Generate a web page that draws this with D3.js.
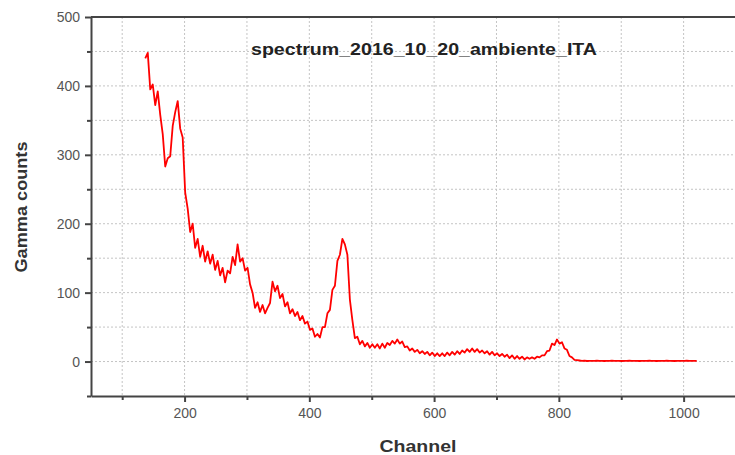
<!DOCTYPE html>
<html>
<head>
<meta charset="utf-8">
<script src="https://cdn.jsdelivr.net/npm/d3@7"></script>
<style>
  body { margin: 0; background: #fff; }
  svg { display: block; font-family: "Liberation Sans", Arial, sans-serif; }
</style>
</head>
<body>
<svg id="chart" width="735" height="455"></svg>
<script>
// spectrum sampled every 4 channels, starting at channel 137
var channelStart = 137, channelStep = 4;
var counts = [
  440, 448, 395, 402, 372, 392, 358, 330, 283, 295,
  298, 342, 362, 378, 338, 325, 245, 222, 188, 200,
  165, 178, 152, 168, 145, 160, 142, 155, 133, 146,
  125, 136, 115, 132, 128, 152, 140, 170, 145, 150,
  132, 136, 112, 100, 78, 86, 72, 82, 70, 78,
  85, 116, 102, 110, 92, 98, 80, 86, 70, 76,
  66, 72, 60, 66, 55, 58, 46, 48, 36, 40,
  35, 50, 50, 70, 75, 104, 110, 146, 155, 178,
  170, 155, 90, 60, 34, 36, 25, 30, 22, 27,
  20, 25, 20, 25, 19, 26, 20, 27, 24, 30,
  26, 32, 26, 29, 21, 22, 16, 19, 14, 17,
  12, 15, 11, 14, 9, 13, 8, 12, 8, 12,
  8, 13, 9, 14, 10, 15, 11, 16, 13, 18,
  14, 19, 14, 18, 13, 16, 12, 15, 10, 14,
  9, 12, 8, 11, 7, 10, 5, 9, 4, 8,
  4, 7, 3, 6, 4, 6, 4, 7, 6, 9,
  9, 15, 16, 26, 24, 32, 26, 28, 19, 17,
  8, 6, 2.5, 2, 1.5, 1, 1.2, 0.8, 1, 1,
  1, 1.2, 1, 1, 0.8, 1, 1, 1.2, 1, 1,
  1, 0.8, 1, 1, 1.2, 1, 1, 1, 0.8, 1,
  1, 1, 1.2, 1, 1, 0.8, 1, 1, 1, 1.2,
  1, 1, 0.8, 1, 1, 1, 1, 1.2, 1, 1,
  1, 1
];
var xMajor = [200, 400, 600, 800, 1000];
var xMinor = [100, 300, 500, 700, 900];
var yMajor = [0, 100, 200, 300, 400, 500];
var yMinor = [-50, 50, 150, 250, 350, 450];
var title = "spectrum_2016_10_20_ambiente_ITA";

var svg = d3.select('#chart'),
	padL = 91, padT = 17, padR = 746, padB = 396;

var x = d3.scaleLinear().domain([50, 1100]).range([padL, padR]);
var y = d3.scaleLinear().domain([-50, 500]).range([padB, padT]);

// dotted grid
var grid = svg.append('g').attr('class', 'grid')
	.attr('stroke', '#c4c4c4').attr('stroke-width', 1).attr('stroke-dasharray', '2,2');
grid.selectAll('line.gx').data(xMajor.concat(xMinor)).enter().append('line')
	.attr('x1', d => x(d)).attr('x2', d => x(d)).attr('y1', padT).attr('y2', padB);
grid.selectAll('line.gy').data(yMajor.concat(yMinor).filter(d => d > -50 && d < 500)).enter().append('line')
	.attr('x1', padL).attr('x2', padR).attr('y1', d => y(d)).attr('y2', d => y(d));

// spectrum line
var line = d3.line()
	.x((d, i) => x(channelStart + i * channelStep))
	.y(d => y(d));
svg.append('path').datum(counts)
	.attr('d', line)
	.attr('fill', 'none').attr('stroke', '#ff0000').attr('stroke-width', 1.8)
	.attr('stroke-linejoin', 'round');

// axes
var xAxis = svg.append('g').attr('transform', 'translate(0,' + padB + ')')
	.call(d3.axisBottom(x).tickValues(xMajor).tickSize(6).tickSizeOuter(0).tickFormat(d3.format('d')));
svg.append('g').attr('transform', 'translate(0,' + padB + ')')
	.call(d3.axisBottom(x).tickValues(xMinor).tickSize(4).tickFormat('').tickSizeOuter(0))
	.select('.domain').remove();
var yAxis = svg.append('g').attr('transform', 'translate(' + padL + ',0)')
	.call(d3.axisLeft(y).tickValues(yMajor).tickSize(6).tickSizeOuter(0).tickFormat(d3.format('d')));
svg.append('g').attr('transform', 'translate(' + padL + ',0)')
	.call(d3.axisLeft(y).tickValues(yMinor).tickSize(4).tickFormat('').tickSizeOuter(0))
	.select('.domain').remove();

svg.selectAll('.domain').attr('stroke', '#444').attr('stroke-width', 2);
svg.selectAll('.tick line').attr('stroke', '#444').attr('stroke-width', 2);
svg.selectAll('.tick text').attr('fill', '#555').style('font-size', '14px');
xAxis.selectAll('.tick text').attr('dy', '0.9em');
yAxis.selectAll('.tick text').attr('dx', '-2');

// top frame
svg.append('line').attr('x1', padL).attr('x2', padR).attr('y1', padT).attr('y2', padT)
	.attr('stroke', '#444').attr('stroke-width', 2);

// labels
svg.append('text').text(title)
	.attr('x', 251).attr('y', 55)
	.attr('textLength', 346).attr('lengthAdjust', 'spacingAndGlyphs')
	.style('font-size', '17px').style('font-weight', 'bold').attr('fill', '#222');
svg.append('text').text('Channel')
	.attr('x', 418).attr('y', 452).attr('text-anchor', 'middle')
	.attr('textLength', 77).attr('lengthAdjust', 'spacingAndGlyphs')
	.style('font-size', '17px').style('font-weight', 'bold').attr('fill', '#333');
svg.append('text').text('Gamma counts')
	.attr('transform', 'translate(27,207)rotate(-90)').attr('text-anchor', 'middle')
	.attr('textLength', 131).attr('lengthAdjust', 'spacingAndGlyphs')
	.style('font-size', '17px').style('font-weight', 'bold').attr('fill', '#333');
</script>
</body>
</html>
